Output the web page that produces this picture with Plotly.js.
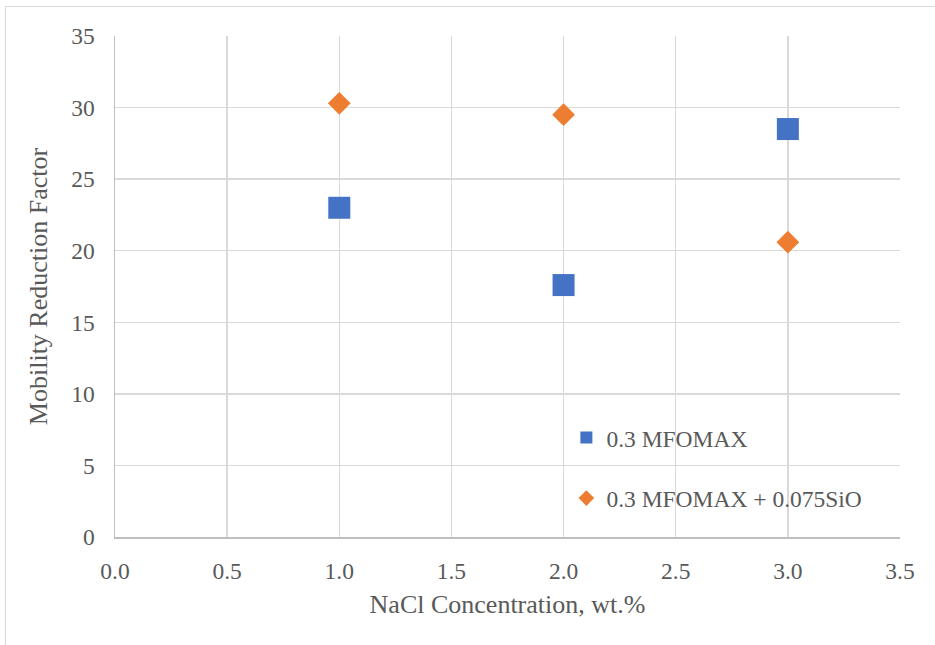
<!DOCTYPE html>
<html>
<head>
<meta charset="utf-8">
<script src="https://cdn.plot.ly/plotly-3.0.1.min.js"></script>
<style>
  html, body { margin: 0; padding: 0; background: #fff; }
  #wrap { position: relative; width: 935px; height: 645px; overflow: hidden; }
  #chart { position: absolute; left: 0; top: 0; width: 935px; height: 645px; }
  #frame { position: absolute; left: 5px; top: 6px; width: 1000px; height: 700px;
           border-left: 1px solid #d9d9d9; border-top: 1px solid #d9d9d9; pointer-events: none; }
</style>
</head>
<body>
<div id="wrap">
  <div id="chart"></div>
  <div id="frame"></div>
</div>
<script>
// NaCl concentration (wt.%) and mobility reduction factor for each formulation
const nacl = [1, 2, 3];
const mfomax = [23.0, 17.6, 28.5];
const mfomaxSiO = [30.3, 29.5, 20.6];
const seriesNames = ['0.3 MFOMAX', '0.3 MFOMAX + 0.075SiO'];
const xTicks = [0, 0.5, 1, 1.5, 2, 2.5, 3, 3.5];
const yTicks = [0, 5, 10, 15, 20, 25, 30, 35];

const serif = 'Liberation Serif, Times New Roman, serif';
const textGrey = '#595959';

const traces = [
  {
    x: nacl, y: mfomax, name: seriesNames[0], type: 'scatter', mode: 'markers',
    legendgroup: 'a',
    marker: { symbol: 'square', size: 22, color: '#4472c4' },
    hoverinfo: 'x+y'
  },
  {
    x: nacl, y: mfomaxSiO, name: seriesNames[1], type: 'scatter', mode: 'markers',
    legendgroup: 'b',
    marker: { symbol: 'diamond', size: 17.5, color: '#ed7d31' },
    hoverinfo: 'x+y'
  }
];

const layout = {
  width: 935, height: 645,
  margin: { l: 115, r: 35, t: 36, b: 108 },
  paper_bgcolor: '#ffffff', plot_bgcolor: '#ffffff',
  font: { family: serif, size: 23.5, color: textGrey },
  showlegend: true,
  legend: {
    x: 0.575, y: 0.242, xanchor: 'left', yanchor: 'top',
    bgcolor: 'rgba(0,0,0,0)', borderwidth: 0,
    itemsizing: 'constant', traceorder: 'grouped', tracegroupgap: 27,
    font: { family: serif, size: 23.5, color: textGrey }
  },
  xaxis: {
    range: [0, 3.5], tickvals: xTicks, tickformat: '.1f',
    showgrid: true, gridcolor: '#d9d9d9', gridwidth: 1.5,
    zeroline: false, showline: true, linecolor: '#bfbfbf', linewidth: 1.5,
    ticks: '', ticklabelstandoff: 12,
    title: { text: 'NaCl Concentration, wt.%', font: { family: serif, size: 26, color: textGrey }, standoff: 12 }
  },
  yaxis: {
    range: [0, 35], tickvals: yTicks,
    showgrid: true, gridcolor: '#d9d9d9', gridwidth: 1.5,
    zeroline: false, showline: true, linecolor: '#bfbfbf', linewidth: 1.5,
    ticks: '', ticklabelstandoff: 14,
    title: { text: 'Mobility Reduction Factor', font: { family: serif, size: 26, color: textGrey }, standoff: 16 }
  }
};

Plotly.newPlot('chart', traces, layout, { displayModeBar: false, staticPlot: true });
</script>
</body>
</html>
